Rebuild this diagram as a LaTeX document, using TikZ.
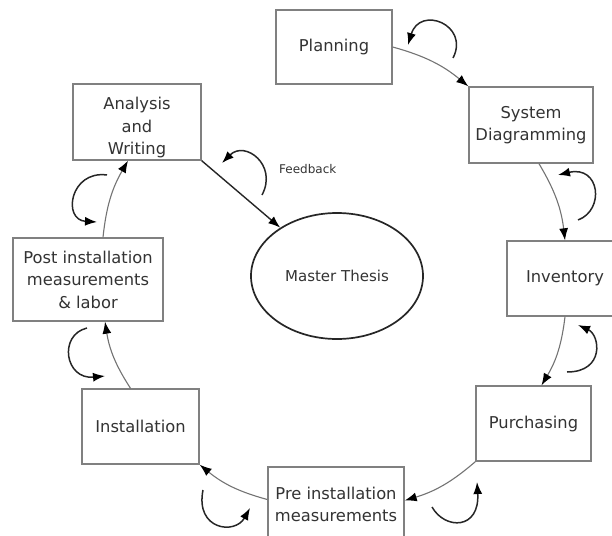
\documentclass[tikz,border=0pt]{standalone}
\usepackage{fontspec}
\setmainfont{DejaVu Sans}
\usetikzlibrary{arrows.meta,shapes.geometric}

\begin{document}
\begin{tikzpicture}[x=1pt,y=-1pt,
  stage/.style={draw=black!50, line width=1.4pt, fill=white, inner sep=0pt,
    align=center, text=black!80, font=\fontsize{16.3}{22.5}\selectfont},
  tip/.style={-{Latex[length=12pt,width=9pt,black]}},
  flow/.style={draw=black!55, line width=1.1pt, tip, bend left=12},
  loopback/.style={draw=black!85, line width=1.5pt, tip},
]
\useasboundingbox (0,0) rectangle (612,535);
\clip (0,0) rectangle (612,535);

% stages of the cycle
\node[stage, minimum width=116pt, minimum height=74pt] (plan) at (334,47) {Planning};
\node[stage, minimum width=124pt, minimum height=76pt] (sys) at (531,125) {System\\Diagramming};
\node[stage, minimum width=116pt, minimum height=75pt] (inv) at (565,278.5) {Inventory};
\node[stage, minimum width=115pt, minimum height=75pt] (pur) at (533.5,423.5) {Purchasing};
\node[stage, minimum width=136pt, minimum height=75pt] (pre) at (336,504.5) {Pre installation\\measurements};
\node[stage, minimum width=117pt, minimum height=75pt] (ins) at (140.5,426.5) {Installation};
\node[stage, minimum width=150pt, minimum height=83pt] (post) at (88,279.5) {Post installation\\measurements\\\& labor};
\node[stage, minimum width=128pt, minimum height=76pt,
  label={[align=center, text=black!80, font=\fontsize{16.3}{22.5}\selectfont, yshift=-6pt]center:Analysis\\and\\Writing}] (ana) at (137,122) {};

% the thesis in the middle
\node[draw=black!85, line width=1.7pt, ellipse, minimum width=172pt, minimum height=126pt,
  inner sep=0pt, text=black!80, font=\fontsize{15}{18}\selectfont] (thesis) at (337,276) {Master Thesis};
\node[anchor=west, inner sep=0pt, text=black!80, font=\fontsize{12}{14}\selectfont] (fb) at (279,169) {Feedback};

% clockwise flow between stages
\draw[flow] (plan.east) to (sys.north west);
\draw[flow] ([xshift=8pt]sys.south) to (inv.north);
\draw[flow] (inv.south) to ([xshift=8pt]pur.north);
\draw[flow] (pur.south west) to ([yshift=4pt]pre.east);
\draw[flow] ([yshift=5pt]pre.west) to (ins.south east);
\draw[flow] ([xshift=-10pt]ins.north) to ([xshift=17pt]post.south);
\draw[flow] ([xshift=15pt]post.north) to ([xshift=-9pt]ana.south);
\draw[draw=black!85, line width=1.4pt, tip] (ana.south east) -- (thesis);

% feedback loops beside each step
\draw[loopback] (453,58) .. controls (470,25) and (420,5) .. (408,45);
\draw[loopback] (578,220) .. controls (605,210) and (600,165) .. (558,175);
\draw[loopback] (567,372) .. controls (605,372) and (600,335) .. (578,325);
\draw[loopback] (432,507) .. controls (445,530) and (480,530) .. (477,482);
\draw[loopback] (203,490) .. controls (195,530) and (235,535) .. (250,508);
\draw[loopback] (87,328) .. controls (58,335) and (65,380) .. (105,376);
\draw[loopback] (107,175) .. controls (70,170) and (62,220) .. (97,222);
\draw[loopback] (262,195) .. controls (278,165) and (245,140) .. (222,163);
\end{tikzpicture}
\end{document}
